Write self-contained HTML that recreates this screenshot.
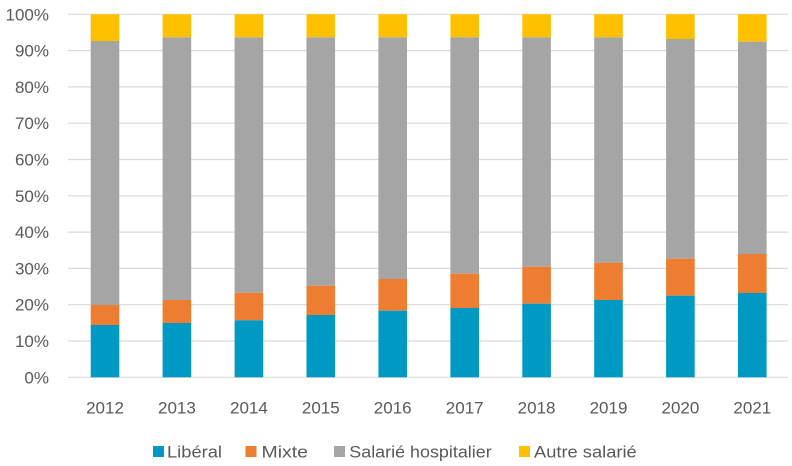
<!DOCTYPE html>
<html>
<head>
<meta charset="utf-8">
<style>
  html,body{margin:0;padding:0;background:#fff;}
  svg{display:block;}
  text{font-family:"Liberation Sans",sans-serif;fill:#595959;}
</style>
</head>
<body>
<svg width="792" height="466" viewBox="0 0 792 466" xmlns="http://www.w3.org/2000/svg">
  <rect x="0" y="0" width="792" height="466" fill="#fff"/>
  <!-- gridlines -->
  <g stroke="#d9d9d9" stroke-width="1.2">
    <line x1="68" x2="788" y1="377.3" y2="377.3"/>
    <line x1="68" x2="788" y1="341" y2="341"/>
    <line x1="68" x2="788" y1="304.7" y2="304.7"/>
    <line x1="68" x2="788" y1="268.4" y2="268.4"/>
    <line x1="68" x2="788" y1="232.1" y2="232.1"/>
    <line x1="68" x2="788" y1="195.8" y2="195.8"/>
    <line x1="68" x2="788" y1="159.5" y2="159.5"/>
    <line x1="68" x2="788" y1="123.2" y2="123.2"/>
    <line x1="68" x2="788" y1="86.9" y2="86.9"/>
    <line x1="68" x2="788" y1="50.6" y2="50.6"/>
    <line x1="68" x2="788" y1="14.3" y2="14.3"/>
  </g>
  <!-- y labels -->
  <g font-size="17" text-anchor="end">
    <text x="49" y="383.3">0%</text>
    <text x="49" y="347">10%</text>
    <text x="49" y="310.7">20%</text>
    <text x="49" y="274.4">30%</text>
    <text x="49" y="238.1">40%</text>
    <text x="49" y="201.8">50%</text>
    <text x="49" y="165.5">60%</text>
    <text x="49" y="129.2">70%</text>
    <text x="49" y="92.9">80%</text>
    <text x="49" y="56.6">90%</text>
    <text x="49" y="20.3">100%</text>
  </g>
  <!-- bars -->
  <g>
    <!-- 2012 -->
    <rect x="90.7" y="14.3" width="28.6" height="26.7" fill="#ffc000"/>
    <rect x="90.7" y="41" width="28.6" height="264" fill="#a5a5a5"/>
    <rect x="90.7" y="305" width="28.6" height="20" fill="#ed7d31"/>
    <rect x="90.7" y="325" width="28.6" height="52.3" fill="#0099c4"/>
    <!-- 2013 -->
    <rect x="162.6" y="14.3" width="28.6" height="23" fill="#ffc000"/>
    <rect x="162.6" y="37.3" width="28.6" height="262.7" fill="#a5a5a5"/>
    <rect x="162.6" y="300" width="28.6" height="23" fill="#ed7d31"/>
    <rect x="162.6" y="323" width="28.6" height="54.3" fill="#0099c4"/>
    <!-- 2014 -->
    <rect x="234.6" y="14.3" width="28.6" height="23" fill="#ffc000"/>
    <rect x="234.6" y="37.3" width="28.6" height="255.4" fill="#a5a5a5"/>
    <rect x="234.6" y="292.7" width="28.6" height="27.6" fill="#ed7d31"/>
    <rect x="234.6" y="320.3" width="28.6" height="57" fill="#0099c4"/>
    <!-- 2015 -->
    <rect x="306.5" y="14.3" width="28.6" height="23" fill="#ffc000"/>
    <rect x="306.5" y="37.3" width="28.6" height="248.4" fill="#a5a5a5"/>
    <rect x="306.5" y="285.7" width="28.6" height="29.3" fill="#ed7d31"/>
    <rect x="306.5" y="315" width="28.6" height="62.3" fill="#0099c4"/>
    <!-- 2016 -->
    <rect x="378.4" y="14.3" width="28.6" height="23" fill="#ffc000"/>
    <rect x="378.4" y="37.3" width="28.6" height="241.7" fill="#a5a5a5"/>
    <rect x="378.4" y="279" width="28.6" height="31.7" fill="#ed7d31"/>
    <rect x="378.4" y="310.7" width="28.6" height="66.6" fill="#0099c4"/>
    <!-- 2017 -->
    <rect x="450.4" y="14.3" width="28.6" height="23" fill="#ffc000"/>
    <rect x="450.4" y="37.3" width="28.6" height="236.4" fill="#a5a5a5"/>
    <rect x="450.4" y="273.7" width="28.6" height="34.3" fill="#ed7d31"/>
    <rect x="450.4" y="308" width="28.6" height="69.3" fill="#0099c4"/>
    <!-- 2018 -->
    <rect x="522.3" y="14.3" width="28.6" height="23" fill="#ffc000"/>
    <rect x="522.3" y="37.3" width="28.6" height="229.4" fill="#a5a5a5"/>
    <rect x="522.3" y="266.7" width="28.6" height="37" fill="#ed7d31"/>
    <rect x="522.3" y="303.7" width="28.6" height="73.6" fill="#0099c4"/>
    <!-- 2019 -->
    <rect x="594.2" y="14.3" width="28.6" height="23" fill="#ffc000"/>
    <rect x="594.2" y="37.3" width="28.6" height="225.4" fill="#a5a5a5"/>
    <rect x="594.2" y="262.7" width="28.6" height="37.3" fill="#ed7d31"/>
    <rect x="594.2" y="300" width="28.6" height="77.3" fill="#0099c4"/>
    <!-- 2020 -->
    <rect x="666.1" y="14.3" width="28.6" height="24.7" fill="#ffc000"/>
    <rect x="666.1" y="39" width="28.6" height="219.7" fill="#a5a5a5"/>
    <rect x="666.1" y="258.7" width="28.6" height="37" fill="#ed7d31"/>
    <rect x="666.1" y="295.7" width="28.6" height="81.6" fill="#0099c4"/>
    <!-- 2021 -->
    <rect x="738" y="14.3" width="28.6" height="27.4" fill="#ffc000"/>
    <rect x="738" y="41.7" width="28.6" height="212.3" fill="#a5a5a5"/>
    <rect x="738" y="254" width="28.6" height="39" fill="#ed7d31"/>
    <rect x="738" y="293" width="28.6" height="84.3" fill="#0099c4"/>
  </g>
  <!-- x labels -->
  <g font-size="17" text-anchor="middle">
    <text x="105" y="413.3">2012</text>
    <text x="176.9" y="413.3">2013</text>
    <text x="248.9" y="413.3">2014</text>
    <text x="320.8" y="413.3">2015</text>
    <text x="392.7" y="413.3">2016</text>
    <text x="464.7" y="413.3">2017</text>
    <text x="536.6" y="413.3">2018</text>
    <text x="608.5" y="413.3">2019</text>
    <text x="680.4" y="413.3">2020</text>
    <text x="752.3" y="413.3">2021</text>
  </g>
  <!-- legend -->
  <g font-size="17">
    <rect x="153" y="446" width="11" height="11" fill="#0099c4"/>
    <text x="167" y="457.3" textLength="55" lengthAdjust="spacingAndGlyphs">Libéral</text>
    <rect x="245.5" y="446" width="11" height="11" fill="#ed7d31"/>
    <text x="261.5" y="457.3" textLength="46.5" lengthAdjust="spacingAndGlyphs">Mixte</text>
    <rect x="334" y="446" width="11" height="11" fill="#a5a5a5"/>
    <text x="349.3" y="457.3" textLength="142.4" lengthAdjust="spacingAndGlyphs">Salarié hospitalier</text>
    <rect x="519" y="446" width="11" height="11" fill="#ffc000"/>
    <text x="534" y="457.3" textLength="102.7" lengthAdjust="spacingAndGlyphs">Autre salarié</text>
  </g>
</svg>
</body>
</html>
